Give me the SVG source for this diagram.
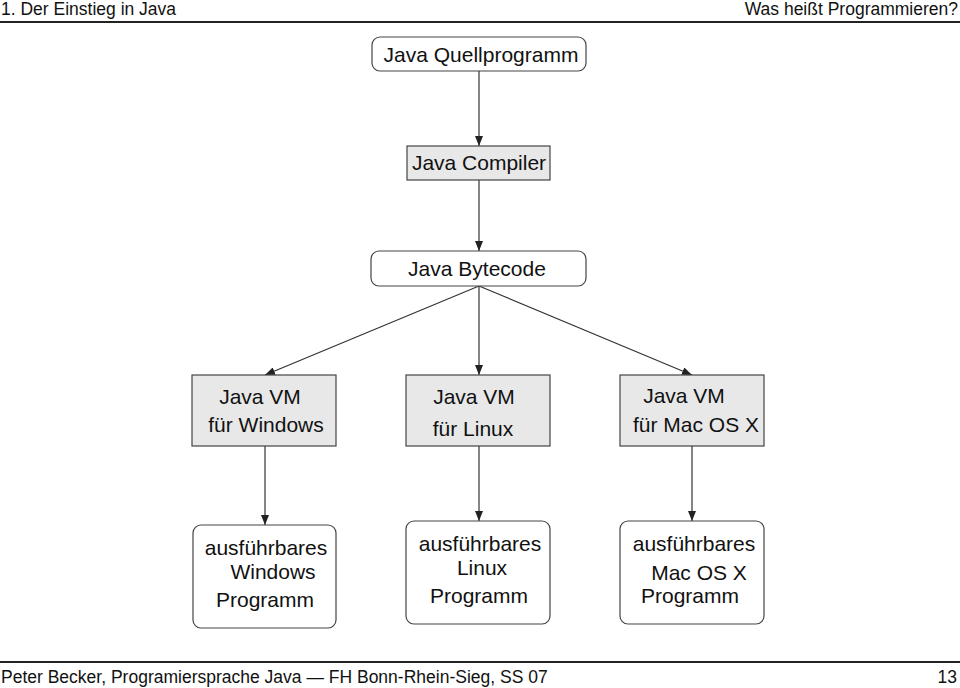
<svg xmlns="http://www.w3.org/2000/svg" width="960" height="688" viewBox="0 0 960 688">
<defs>
<style>
text{font-family:"Liberation Sans",Arial,sans-serif;fill:#111;}
.t{font-size:21px;text-anchor:middle;}
.h{font-size:17.5px;}
.box{fill:#fff;stroke:#444;stroke-width:1.2;}
.gbox{fill:#e8e8e8;stroke:#444;stroke-width:1.2;}
.c{stroke:#333;stroke-width:1.2;fill:none;marker-end:url(#ah);}
</style>
<marker id="ah" markerWidth="10" markerHeight="8" refX="10" refY="4" orient="auto" markerUnits="userSpaceOnUse">
<path d="M0,0 L10,4 L0,8 Z" fill="#222"/>
</marker>
</defs>
<rect width="960" height="688" fill="#fff"/>
<g id="header">
<text class="h" x="1" y="15">1. Der Einstieg in Java</text>
<text class="h" x="958" y="15" text-anchor="end">Was heißt Programmieren?</text>
<line x1="0" y1="22" x2="960" y2="22" stroke="#222" stroke-width="2"/>
</g>
<g id="connectors">
<line class="c" x1="479" y1="71" x2="479" y2="146"/>
<line class="c" x1="479" y1="180" x2="479" y2="251"/>
<line class="c" x1="479" y1="286" x2="265" y2="375"/>
<line class="c" x1="479" y1="286" x2="479" y2="375"/>
<line class="c" x1="479" y1="286" x2="692" y2="375"/>
<line class="c" x1="265" y1="446" x2="265" y2="525"/>
<line class="c" x1="479" y1="446" x2="479" y2="521"/>
<line class="c" x1="692" y1="446" x2="692" y2="521"/>
</g>
<g id="quell">
<rect class="box" x="372" y="37" width="214" height="34" rx="8"/>
<text class="t" x="481" y="62">Java Quellprogramm</text>
</g>
<g id="compiler">
<rect class="gbox" x="407" y="146" width="143" height="34"/>
<text class="t" x="479" y="170">Java Compiler</text>
</g>
<g id="bytecode">
<rect class="box" x="371" y="251" width="215" height="35" rx="8"/>
<text class="t" x="477" y="276">Java Bytecode</text>
</g>
<g id="vm-windows">
<rect class="gbox" x="192" y="375" width="144" height="71"/>
<text class="t" x="260" y="404">Java VM</text>
<text class="t" x="266" y="432">für Windows</text>
</g>
<g id="vm-linux">
<rect class="gbox" x="406" y="375" width="144" height="71"/>
<text class="t" x="474" y="404">Java VM</text>
<text class="t" x="473" y="436">für Linux</text>
</g>
<g id="vm-mac">
<rect class="gbox" x="620" y="375" width="144" height="71"/>
<text class="t" x="684" y="403">Java VM</text>
<text class="t" x="696" y="432">für Mac OS X</text>
</g>
<g id="prog-windows">
<rect class="box" x="193" y="525" width="143" height="103" rx="8"/>
<text class="t" x="266" y="555">ausführbares</text>
<text class="t" x="273" y="579">Windows</text>
<text class="t" x="265" y="607">Programm</text>
</g>
<g id="prog-linux">
<rect class="box" x="406" y="521" width="144" height="103" rx="8"/>
<text class="t" x="480" y="551">ausführbares</text>
<text class="t" x="482" y="575">Linux</text>
<text class="t" x="479" y="603">Programm</text>
</g>
<g id="prog-mac">
<rect class="box" x="620" y="521" width="144" height="103" rx="8"/>
<text class="t" x="694" y="551">ausführbares</text>
<text class="t" x="699" y="580">Mac OS X</text>
<text class="t" x="690" y="603">Programm</text>
</g>
<g id="footer">
<line x1="0" y1="662" x2="960" y2="662" stroke="#222" stroke-width="2"/>
<text class="h" x="1" y="683">Peter Becker, Programiersprache Java — FH Bonn-Rhein-Sieg, SS 07</text>
<text class="h" x="957" y="683" text-anchor="end">13</text>
</g>
</svg>
